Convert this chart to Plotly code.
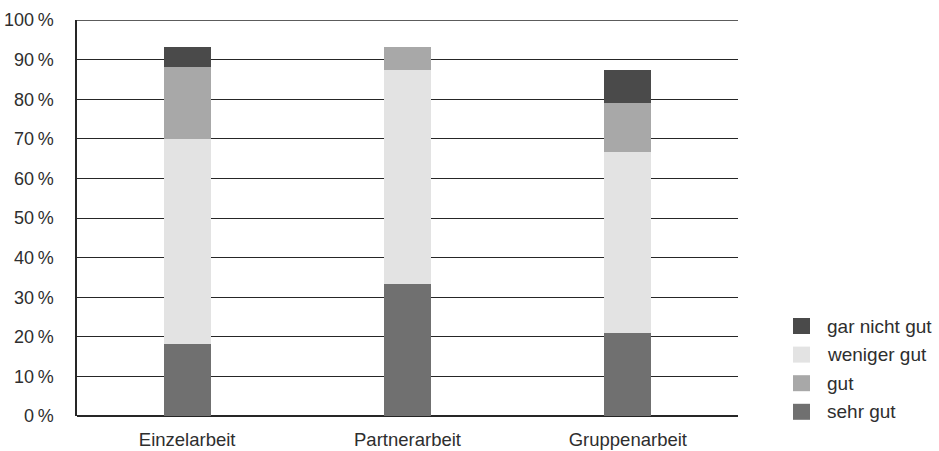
import plotly.graph_objects as go

categories = ["Einzelarbeit", "Partnerarbeit", "Gruppenarbeit"]
sehr_gut = [18.2, 33.3, 21.0]
weniger_gut = [51.8, 54.1, 45.7]
gut = [18.1, 5.8, 12.3]
gar_nicht_gut = [5.1, 0.0, 8.4]

tick_vals = list(range(0, 101, 10))
tick_text = [f"{v}\u2009%" for v in tick_vals]

# (name, values, colour) in stacking order, bottom to top
series = [
    ("sehr gut", sehr_gut, "#707070"),
    ("weniger gut", weniger_gut, "#e3e3e3"),
    ("gut", gut, "#a8a8a8"),
    ("gar nicht gut", gar_nicht_gut, "#4a4a4a"),
]
legend_order = ["gar nicht gut", "weniger gut", "gut", "sehr gut"]

W, H = 939, 451
M_L, M_R, M_T, M_B = 77, 201, 20, 35
plot_w = W - M_L - M_R
plot_h = H - M_T - M_B


def px_x(px):
    return (px - M_L) / plot_w


def px_y(py):
    return (H - M_B - py) / plot_h


fig = go.Figure()
for name, vals, color in series:
    fig.add_trace(go.Bar(
        x=categories, y=vals, name=name,
        marker=dict(color=color, line=dict(width=0)),
        width=0.214, showlegend=False,
    ))

axis_color = "#262626"
text_color = "#2e2e2e"
font_family = "Liberation Sans, Arial, sans-serif"

# top border line at 100 %
fig.add_shape(type="line", xref="paper", yref="y", x0=0, x1=1, y0=100, y1=100,
              line=dict(color=axis_color, width=1.3), layer="below")

# legend: colour squares with labels on the right of the plot
colors = {name: color for name, _, color in series}
for i, name in enumerate(legend_order):
    cy = 326 + i * 28.6
    fig.add_shape(type="rect", xref="paper", yref="paper",
                  x0=px_x(793), x1=px_x(810), y0=px_y(cy + 8), y1=px_y(cy - 8),
                  fillcolor=colors[name], line=dict(width=0))
    fig.add_annotation(xref="paper", yref="paper", x=px_x(825), y=px_y(cy),
                       xanchor="left", yanchor="middle", showarrow=False,
                       text=name, font=dict(family=font_family, size=19, color=text_color))

fig.update_layout(
    barmode="stack",
    width=W, height=H,
    margin=dict(l=M_L, r=M_R, t=M_T, b=M_B, autoexpand=False),
    plot_bgcolor="white", paper_bgcolor="white",
    font=dict(family=font_family, size=18, color=text_color),
    showlegend=False,
    xaxis=dict(
        showgrid=False, showline=False, ticks="", automargin=False,
        tickfont=dict(size=18.5), ticklabelstandoff=10,
    ),
    yaxis=dict(
        range=[0, 100], automargin=False,
        tickvals=tick_vals, ticktext=tick_text,
        showgrid=True, gridcolor=axis_color, gridwidth=1.3,
        zeroline=True, zerolinecolor=axis_color, zerolinewidth=1.5,
        showline=True, linecolor=axis_color, linewidth=1.5,
        ticks="", ticklabelstandoff=18,
        tickfont=dict(size=18),
    ),
)

fig.write_html("out.html")
